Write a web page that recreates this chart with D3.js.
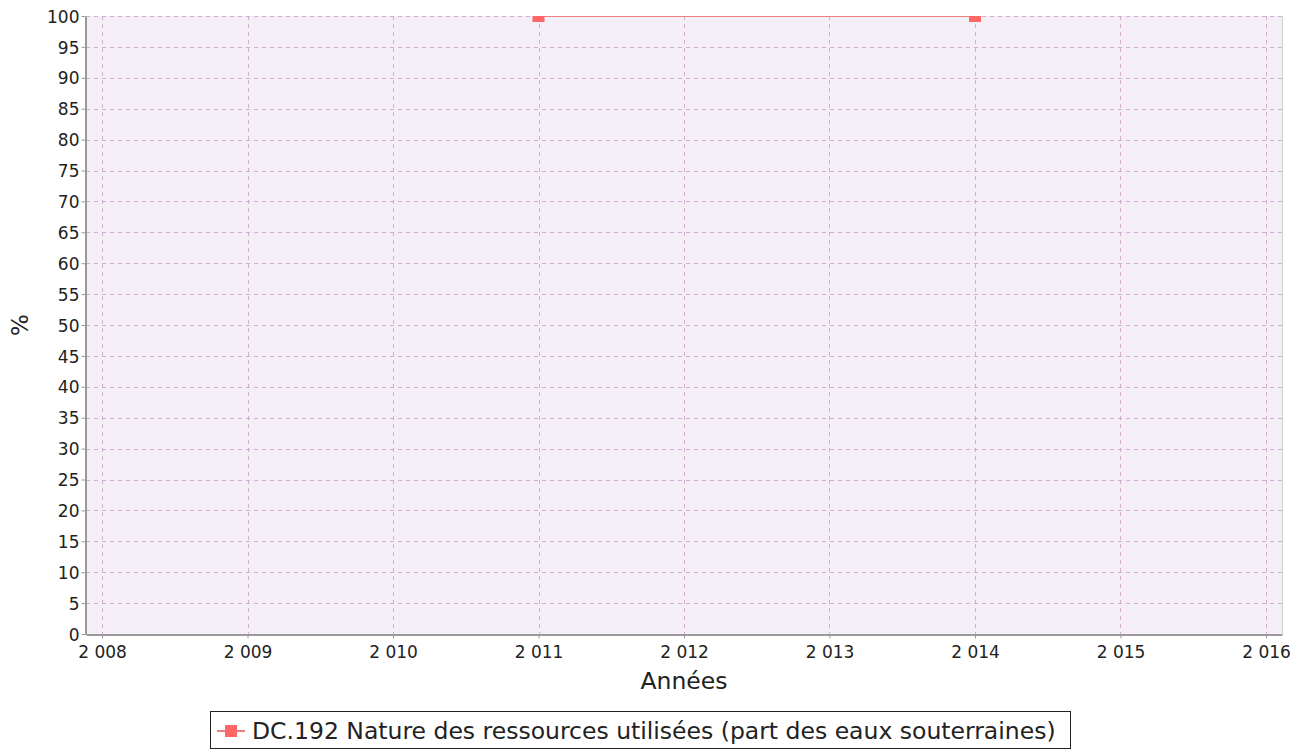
<!DOCTYPE html>
<html><head><meta charset="utf-8">
<script src="https://cdn.jsdelivr.net/npm/d3@7"></script>
<style>body{margin:0;background:#fff;font-family:"DejaVu Sans",sans-serif;}</style>
</head><body>
<svg id="c" width="1309" height="751"></svg>
<script>
const years = [2011, 2014];
const values = [100, 100];
const xTicks = [2008, 2009, 2010, 2011, 2012, 2013, 2014, 2015, 2016];
const yTicks = d3.range(0, 101, 5);
const seriesName = "DC.192 Nature des ressources utilisées (part des eaux souterraines)";

const svg = d3.select("#c");
const L = 86, R = 1282, T = 16, B = 634;
const x = d3.scaleLinear().domain([2008 - 16/145.5, 2016 + 16/145.5]).range([L, R]);
const y = d3.scaleLinear().domain([0, 100]).range([B, T]);

svg.append("rect").attr("x", L).attr("y", T).attr("width", R - L).attr("height", B - T).attr("fill", "#f4eff6");
svg.append("defs").append("clipPath").attr("id", "clip").append("rect")
  .attr("x", L).attr("y", T).attr("width", R - L).attr("height", B - T);

const grid = svg.append("g").attr("stroke", "#d4acd4").attr("stroke-width", 1).attr("stroke-dasharray", "4,4");
grid.selectAll(".gx").data(xTicks).join("line")
  .attr("x1", d => Math.round(x(d)) + 0.5).attr("x2", d => Math.round(x(d)) + 0.5)
  .attr("y1", T).attr("y2", B);
grid.selectAll(".gy").data(yTicks).join("line")
  .attr("y1", d => Math.round(y(d)) + 0.5).attr("y2", d => Math.round(y(d)) + 0.5)
  .attr("x1", L).attr("x2", R);

svg.append("line").attr("x1", R + 0.5).attr("x2", R + 0.5).attr("y1", T).attr("y2", B).attr("stroke", "#d0d0d0");

const fmt = d => String(d).replace(/(\d)(\d{3})$/, "$1 $2");
const xAxis = svg.append("g").attr("transform", `translate(0,${B + 0.5})`)
  .call(d3.axisBottom(x).tickValues(xTicks).tickFormat(fmt).tickSize(4).tickSizeOuter(0));
const yAxis = svg.append("g").attr("transform", `translate(${L - 0.5},0)`)
  .call(d3.axisLeft(y).tickValues(yTicks).tickSize(4).tickSizeOuter(0));
[xAxis, yAxis].forEach(a => {
  a.select(".domain").attr("stroke", "#999").attr("stroke-width", 2);
  a.selectAll(".tick line").attr("stroke", "#999");
  a.selectAll("text").attr("font-family", "DejaVu Sans").attr("font-size", 17).attr("fill", "#222");
});
xAxis.selectAll("text").attr("y", 8).attr("dy", "0.9em");
yAxis.selectAll("text").attr("dy", "0.36em").attr("x", -6);

svg.append("text").attr("x", (L + R) / 2).attr("y", 689).attr("text-anchor", "middle")
  .attr("font-size", 23.5).attr("fill", "#222").text("Années");
svg.append("text").attr("transform", `translate(28,${(T + B) / 2}) rotate(-90)`).attr("text-anchor", "middle")
  .attr("font-size", 23).attr("fill", "#222").text("%");

const g = svg.append("g").attr("clip-path", "url(#clip)");
const line = d3.line().x((d, i) => x(years[i])).y(d => y(d));
g.append("path").datum(values).attr("d", line).attr("fill", "none").attr("stroke", "#f08080").attr("stroke-width", 2);
g.selectAll(".m").data(values).join("rect")
  .attr("x", (d, i) => x(years[i]) - 6).attr("y", d => y(d) - 6)
  .attr("width", 12).attr("height", 12).attr("fill", "#ff6666");

const lg = svg.append("g");
lg.append("rect").attr("x", 210.5).attr("y", 711.5).attr("width", 860).attr("height", 37)
  .attr("fill", "#fff").attr("stroke", "#222").attr("stroke-width", 1);
lg.append("line").attr("x1", 217).attr("x2", 245).attr("y1", 731).attr("y2", 731).attr("stroke", "#f08080").attr("stroke-width", 2);
lg.append("rect").attr("x", 225).attr("y", 725).attr("width", 12).attr("height", 12).attr("fill", "#ff6666");
lg.append("text").attr("x", 252).attr("y", 739).attr("font-size", 23.5).attr("fill", "#222").text(seriesName);
</script>
</body></html>
